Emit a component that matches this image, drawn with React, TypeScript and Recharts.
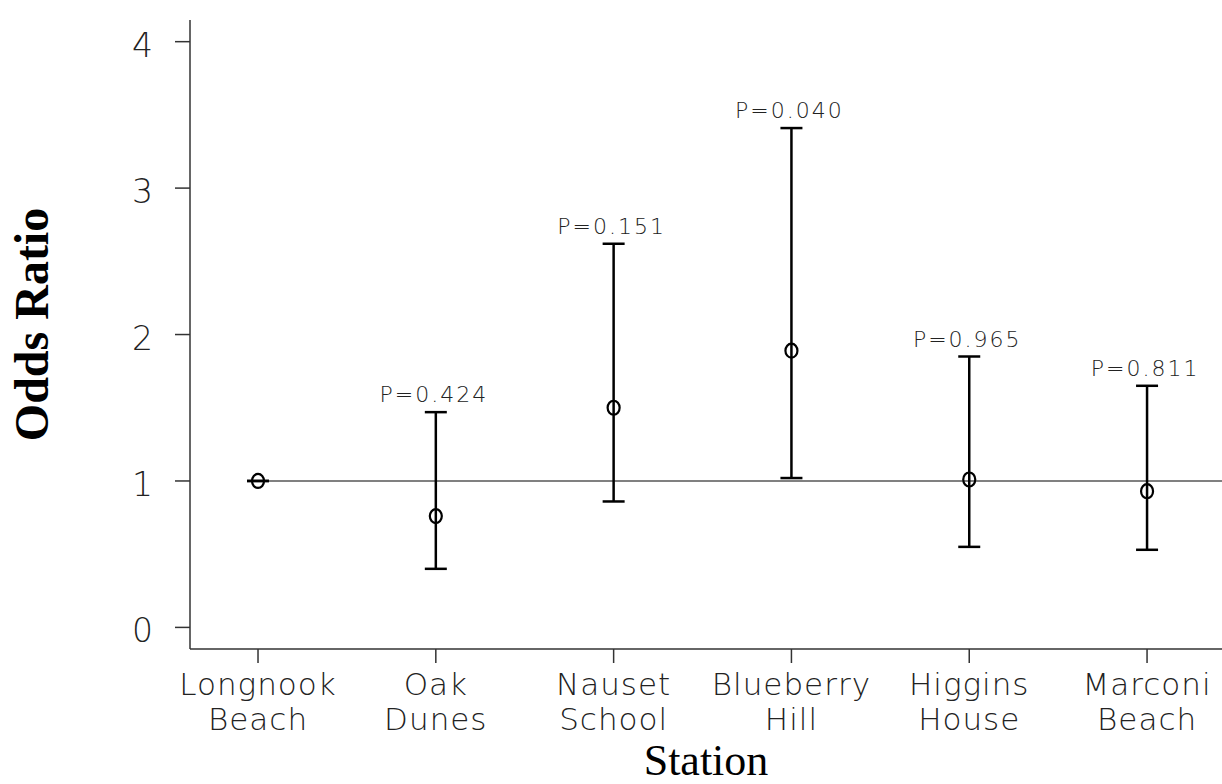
import React from 'react';
import { ComposedChart, Scatter, XAxis, YAxis, ErrorBar, ReferenceLine, Label } from 'recharts';

// Odds ratios by station with 95% confidence limits (Longnook Beach is the reference)
const stations: string[][] = [
  ['Longnook', 'Beach'],
  ['Oak', 'Dunes'],
  ['Nauset', 'School'],
  ['Blueberry', 'Hill'],
  ['Higgins', 'House'],
  ['Marconi', 'Beach'],
];
const oddsRatio = [1, 0.76, 1.5, 1.89, 1.01, 0.93];
const lowerCI = [1, 0.4, 0.86, 1.02, 0.55, 0.53];
const upperCI = [1, 1.47, 2.62, 3.41, 1.85, 1.65];
const pValues: (string | null)[] = [null, '0.424', '0.151', '0.040', '0.965', '0.811'];
const yTicks = [0, 1, 2, 3, 4];
const xTicks = [0, 1, 2, 3, 4, 5];

const points = stations.map((_, i) => ({
  x: i,
  or: oddsRatio[i],
  err: [oddsRatio[i] - lowerCI[i], upperCI[i] - oddsRatio[i]],
}));

const pLabels = stations
  .map((_, i) => ({ x: i, or: upperCI[i], p: pValues[i] }))
  .filter((d) => d.p !== null);

const tickFont = '"DejaVu Sans", sans-serif';

const XTick = (props: any) => {
  const { x, y, payload } = props;
  const lines = stations[payload.value] || [];
  return (
    <g>
      {lines.map((t, k) => (
        <text
          key={k}
          x={x}
          y={y + 30 + k * 35}
          textAnchor="middle"
          fontFamily={tickFont}
          fontWeight={200}
          fontSize={31}
          letterSpacing={1}
          fill="#222"
        >
          {t}
        </text>
      ))}
    </g>
  );
};

const YTick = (props: any) => {
  const { x, y, payload } = props;
  return (
    <text
      x={x - 20}
      y={y + 15}
      textAnchor="end"
      fontFamily={tickFont}
      fontWeight={200}
      fontSize={33}
      fill="#222"
    >
      {payload.value}
    </text>
  );
};

const Circle = (props: any) => {
  const { cx, cy } = props;
  return <ellipse cx={cx} cy={cy} rx={6} ry={7} fill="none" stroke="#000" strokeWidth={2.2} />;
};

const PText = (props: any) => {
  const { cx, cy, payload } = props;
  return (
    <text
      x={cx - 2}
      y={cy - 10}
      textAnchor="middle"
      fontFamily={tickFont}
      fontWeight={200}
      fontSize={22}
      letterSpacing={2}
      fill="#222"
    >
      {`P=${payload.p}`}
    </text>
  );
};

const YTitle = (props: any) => {
  const vb = props.viewBox || { x: 0, y: 0, width: 0, height: 0 };
  const cx = vb.x + 48;
  const cy = vb.y + vb.height / 2 - 10;
  return (
    <text
      x={cx}
      y={cy}
      transform={`rotate(-90, ${cx}, ${cy})`}
      textAnchor="middle"
      fontFamily='"Liberation Serif", "Times New Roman", serif'
      fontWeight="bold"
      fontSize={48}
      fill="#000"
    >
      Odds Ratio
    </text>
  );
};

const XTitle = (props: any) => {
  const vb = props.viewBox || { x: 0, y: 0, width: 0, height: 0 };
  return (
    <text
      x={vb.x + vb.width / 2}
      y={vb.y + 126}
      textAnchor="middle"
      fontFamily='"Liberation Serif", "Times New Roman", serif'
      fontSize={44}
      fill="#000"
    >
      Station
    </text>
  );
};

export default function App() {
  return (
    <div style={{ position: 'absolute', left: 0, top: 0, background: '#fff' }}>
      <ComposedChart width={1222} height={784} margin={{ top: 20, right: 0, bottom: 0, left: 0 }}>
        <XAxis
          type="number"
          dataKey="x"
          domain={[-0.3825, 5.4215]}
          ticks={xTicks}
          allowDataOverflow
          height={135}
          tickSize={14}
          tick={<XTick />}
          axisLine={{ stroke: '#333', strokeWidth: 1.5 }}
          tickLine={{ stroke: '#333', strokeWidth: 1.5 }}
        >
          <Label content={<XTitle />} />
        </XAxis>
        <YAxis
          type="number"
          dataKey="or"
          domain={[-0.1475, 4.148]}
          ticks={yTicks}
          allowDataOverflow
          width={190}
          tickSize={15}
          tick={<YTick />}
          axisLine={{ stroke: '#333', strokeWidth: 1.5 }}
          tickLine={{ stroke: '#333', strokeWidth: 1.5 }}
        >
          <Label content={<YTitle />} />
        </YAxis>
        <ReferenceLine
          segment={[
            { x: 0, y: 1 },
            { x: 5.4215, y: 1 },
          ]}
          stroke="#808080"
          strokeWidth={2}
        />
        <Scatter data={points} shape={<Circle />} isAnimationActive={false}>
          <ErrorBar dataKey="err" direction="y" width={11} stroke="#000" strokeWidth={2.5} isAnimationActive={false} />
        </Scatter>
        <Scatter data={pLabels} shape={<PText />} isAnimationActive={false} />
      </ComposedChart>
    </div>
  );
}
